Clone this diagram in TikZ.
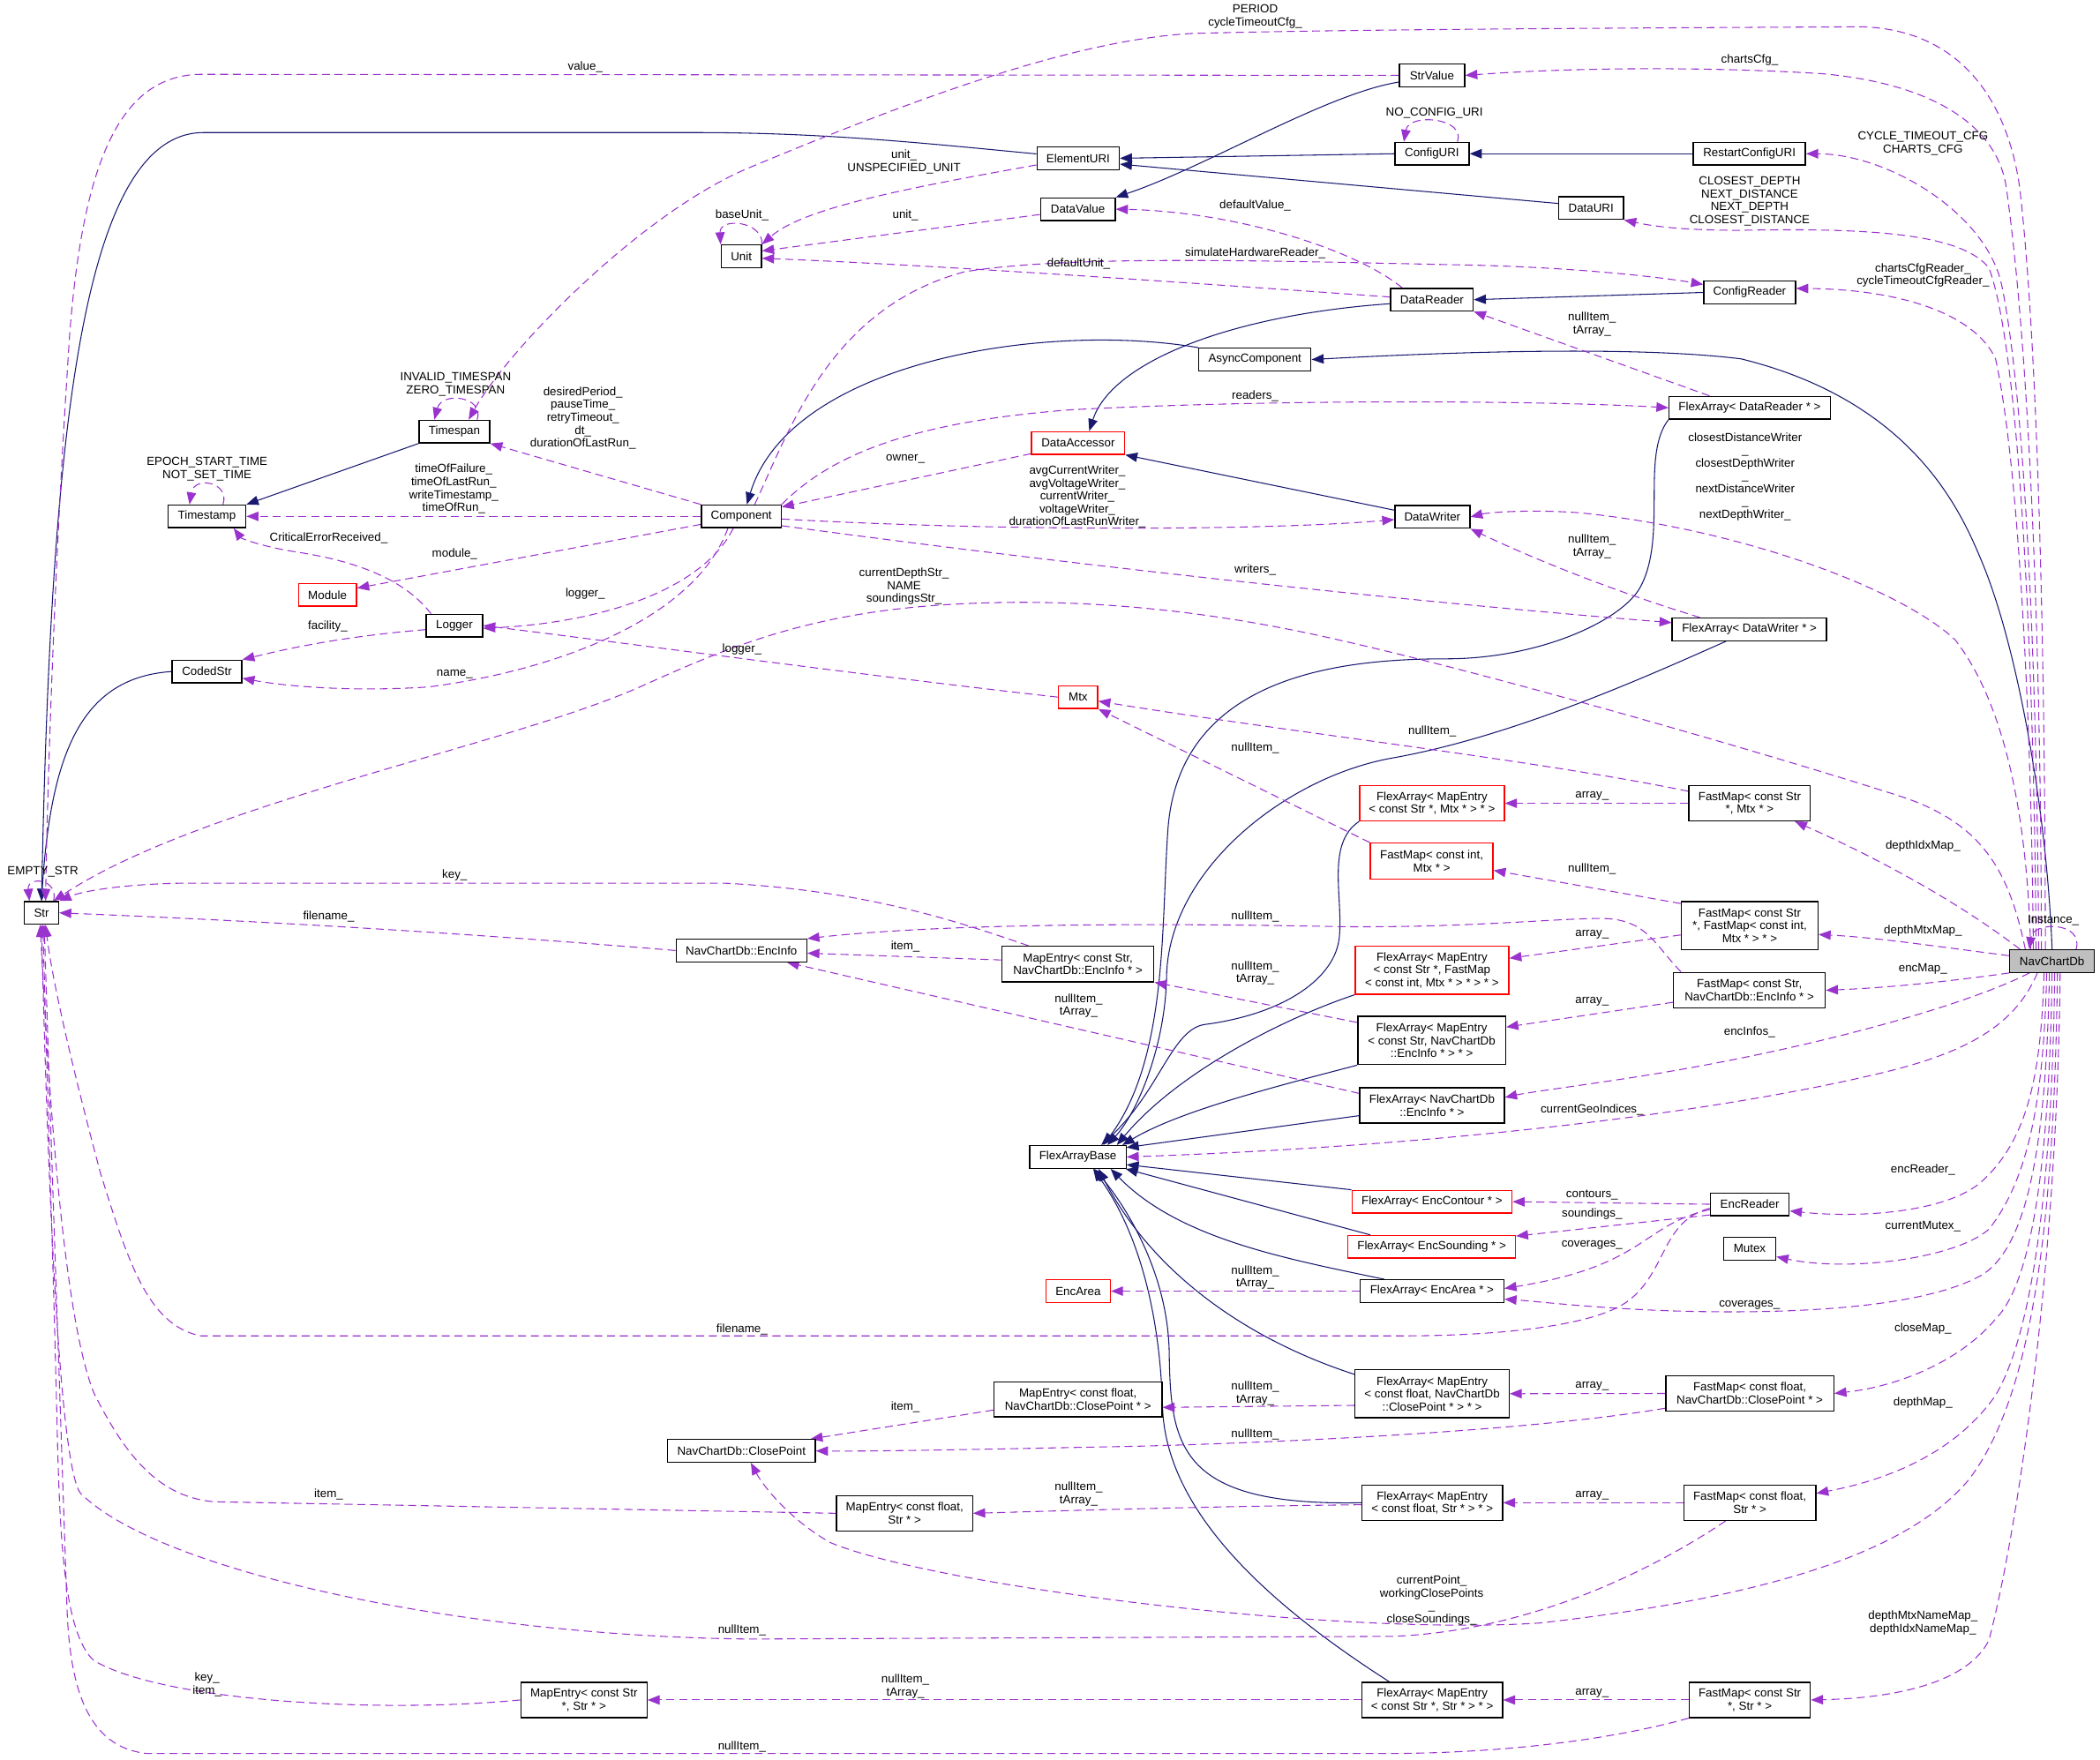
\documentclass[tikz,border=0pt]{standalone}
\usepackage{fontspec}
\setmainfont{Liberation Sans}
\usepackage{tikz}
\usetikzlibrary{arrows.meta,calc,backgrounds}
\definecolor{edgeblue}{HTML}{191970}
\definecolor{edgepurple}{HTML}{9A32CD}
\definecolor{focusgray}{HTML}{BFBFBF}

\begin{document}
\begin{tikzpicture}[
        x=1pt, y=-1pt,
        font=\fontsize{8.8}{9.6}\selectfont,
        cls/.style={
            draw=black,
            line width=0.9pt,
            fill=white,
            inner sep=1pt,
            minimum height=16.9,
            align=center
        },
        trunc/.style={
            cls,
            draw=red
        },
        focus/.style={
            cls,
            fill=focusgray
        },
        inhline/.style={
            -{Triangle[length=9pt,width=7pt]},
            line width=0.7pt,
            draw=edgeblue
        },
        useline/.style={
            -{Triangle[length=9pt,width=7pt]},
            line width=0.7pt,
            draw=edgepurple,
            dash pattern=on 6pt off 3.5pt
        },
        lbl/.style={
            inner sep=0pt,
            align=center
        }
    ]
    \useasboundingbox (0,0) rectangle (1568,1314);

    % =========================
    % Classes
    % =========================
    \node[cls, minimum width=48.8] (StrValue) at (1069.2,56.3) {StrValue};
    \node[cls, minimum width=61.5] (ElementURI) at (805,118.2) {ElementURI};
    \node[cls, minimum width=55.4] (ConfigURI) at (1069.2,114.8) {ConfigURI};
    \node[cls, minimum width=83.7] (RestartConfigURI) at (1306.2,114.8) {RestartConfigURI};
    \node[cls, minimum width=48.4] (DataURI) at (1188,155.4) {DataURI};
    \node[cls, minimum width=55.8] (DataValue) at (804.8,156.2) {DataValue};
    \node[cls, minimum width=30] (Unit) at (553.5,191.4) {Unit};
    \node[cls, minimum width=61.6] (DataReader) at (1069.2,223.8) {DataReader};
    \node[cls, minimum width=68.5] (ConfigReader) at (1306.4,218.4) {ConfigReader};
    \node[cls, minimum width=83.7] (AsyncComponent) at (937,268.5) {AsyncComponent};
    \node[cls, minimum width=120.3] (FADR) at (1306.4,304.5) {FlexArray< DataReader * >};
    \node[trunc, minimum width=69.5] (DataAccessor) at (805,330.8) {DataAccessor};
    \node[cls, minimum width=52.7] (Timespan) at (339.3,322.3) {Timespan};
    \node[cls, minimum width=58.1] (Timestamp) at (154.5,385.6) {Timestamp};
    \node[cls, minimum width=59.5] (Component) at (553.5,385.6) {Component};
    \node[cls, minimum width=56] (DataWriter) at (1069.5,386) {DataWriter};
    \node[trunc, minimum width=43.3] (Module) at (244.5,444.2) {Module};
    \node[cls, minimum width=42] (Logger) at (339.3,467.2) {Logger};
    \node[cls, minimum width=52.1] (CodedStr) at (154.5,501.5) {CodedStr};
    \node[cls, minimum width=115.3] (FADW) at (1306.2,470) {FlexArray< DataWriter * >};
    \node[trunc, minimum width=29.3] (Mtx) at (805,520.6) {Mtx};
    \node[cls, minimum width=25.5] (Str) at (31,681.7) {Str};
    \node[cls, minimum width=97.5] (EncInfo) at (553.6,709.8) {NavChartDb::EncInfo};
    \node[cls, minimum width=113.6, minimum height=26.5] (MESEI) at (804.8,719.9) {MapEntry< const Str,\\ NavChartDb::EncInfo * >};
    \node[trunc, minimum width=108, minimum height=26.2] (FAMtx) at (1069.2,599.9) {FlexArray< MapEntry\\< const Str *, Mtx * > * >};
    \node[trunc, minimum width=91.5, minimum height=26.7] (FMIntMtx) at (1069,643) {FastMap< const int,\\Mtx * >};
    \node[cls, minimum width=90.7, minimum height=26.2] (FMStrMtx) at (1306.4,599.9) {FastMap< const Str\\*, Mtx * >};
    \node[cls, minimum width=102, minimum height=36] (FMStrFM) at (1306.4,691.2) {FastMap< const Str\\*, FastMap< const int,\\Mtx * > * >};
    \node[trunc, minimum width=114.7, minimum height=35.7] (FAFM) at (1069.2,724.6) {FlexArray< MapEntry\\< const Str *, FastMap\\< const int, Mtx * > * > * >};
    \node[cls, minimum width=113.3, minimum height=26.7] (FMStrEI) at (1306.2,739.5) {FastMap< const Str,\\ NavChartDb::EncInfo * >};
    \node[focus, minimum width=63.2] (NavChartDb) at (1532.2,717.7) {NavChartDb};
    \node[cls, minimum width=110.4, minimum height=36] (FAEI) at (1069,777) {FlexArray< MapEntry\\< const Str, NavChartDb\\::EncInfo * > * >};
    \node[cls, minimum width=108, minimum height=26.5] (FAEIp) at (1069.2,825.5) {FlexArray< NavChartDb\\::EncInfo * >};
    \node[cls, minimum width=72] (FlexArrayBase) at (804.8,864) {FlexArrayBase};
    \node[trunc, minimum width=119.4] (FAEC) at (1069.2,897.4) {FlexArray< EncContour * >};
    \node[cls, minimum width=58.9] (EncReader) at (1306.5,899.3) {EncReader};
    \node[trunc, minimum width=125] (FAES) at (1069,931.1) {FlexArray< EncSounding * >};
    \node[cls, minimum width=39] (Mutex) at (1306.4,932.5) {Mutex};
    \node[trunc, minimum width=48.1] (EncArea) at (805,964.2) {EncArea};
    \node[cls, minimum width=107.3] (FAEA) at (1069.2,964.2) {FlexArray< EncArea * >};
    \node[cls, minimum width=125.4, minimum height=26] (MEFCP) at (804.9,1045) {MapEntry< const float,\\ NavChartDb::ClosePoint * >};
    \node[cls, minimum width=115, minimum height=35.7] (FACP) at (1069.3,1040.8) {FlexArray< MapEntry\\< const float, NavChartDb\\::ClosePoint * > * >};
    \node[cls, minimum width=125.4, minimum height=26.3] (FMFCP) at (1306.5,1040.6) {FastMap< const float,\\ NavChartDb::ClosePoint * >};
    \node[cls, minimum width=110.3] (ClosePoint) at (553.6,1083.5) {NavChartDb::ClosePoint};
    \node[cls, minimum width=101.5, minimum height=26.3] (MEFS) at (675.4,1130.1) {MapEntry< const float,\\Str * >};
    \node[cls, minimum width=104.9, minimum height=26.3] (FAFS) at (1069.4,1122.2) {FlexArray< MapEntry\\< const float, Str * > * >};
    \node[cls, minimum width=98.5, minimum height=26.3] (FMFS) at (1306.5,1122.2) {FastMap< const float,\\Str * >};
    \node[cls, minimum width=94.1, minimum height=26.3] (MESS) at (436,1269.5) {MapEntry< const Str\\*, Str * >};
    \node[cls, minimum width=104.9, minimum height=26.3] (FASS) at (1069.4,1269.5) {FlexArray< MapEntry\\< const Str *, Str * > * >};
    \node[cls, minimum width=90.4, minimum height=26.3] (FMSS) at (1306.5,1269.5) {FastMap< const Str\\*, Str * >};

    % =========================
    % Member labels
    % =========================
    \node[lbl] (lPeriod) at (937.2,12.2) {PERIOD\\cycleTimeoutCfg\_};
    \node[lbl] (lValue) at (437,49.8) {value\_};
    \node[lbl] (lChartsCfg) at (1306.4,45) {chartsCfg\_};
    \node[lbl] (lNoCfg) at (1071,84.4) {NO\_CONFIG\_URI};
    \node[lbl] (lCycleCfg) at (1435.8,107.1) {CYCLE\_TIMEOUT\_CFG\\CHARTS\_CFG};
    \node[lbl] (lUnitSpec) at (675,120.9) {unit\_\\UNSPECIFIED\_UNIT};
    \node[lbl] (lUriConst) at (1306.4,150.3) {CLOSEST\_DEPTH\\NEXT\_DISTANCE\\NEXT\_DEPTH\\CLOSEST\_DISTANCE};
    \node[lbl] (lDefVal) at (937.2,153.4) {defaultValue\_};
    \node[lbl] (lBaseUnit) at (554,161) {baseUnit\_};
    \node[lbl] (lUnit) at (676,161) {unit\_};
    \node[lbl] (lSimHw) at (937.2,188.9) {simulateHardwareReader\_};
    \node[lbl] (lDefUnit) at (805.4,197) {defaultUnit\_};
    \node[lbl] (lCfgReader) at (1435.8,205.6) {chartsCfgReader\_\\cycleTimeoutCfgReader\_};
    \node[lbl] (lNullRd) at (1188.7,242) {nullItem\_\\tArray\_};
    \node[lbl] (lTsConst) at (340.2,287) {INVALID\_TIMESPAN\\ZERO\_TIMESPAN};
    \node[lbl] (lReaders) at (937.2,295.5) {readers\_};
    \node[lbl] (lPeriods) at (435.3,312.3) {desiredPeriod\_\\pauseTime\_\\retryTimeout\_\\dt\_\\durationOfLastRun\_};
    \node[lbl] (lOwner) at (676,342.8) {owner\_};
    \node[lbl] (lTmConst) at (154.6,350.3) {EPOCH\_START\_TIME\\NOT\_SET\_TIME};
    \node[lbl] (lTimes) at (338.8,365.2) {timeOfFailure\_\\timeOfLastRun\_\\writeTimestamp\_\\timeOfRun\_};
    \node[lbl] (lWriterDb) at (1303,356) {closestDistanceWriter\\\_\\closestDepthWriter\\\_\\nextDistanceWriter\\\_\\nextDepthWriter\_};
    \node[lbl] (lAvg) at (804.4,371) {avgCurrentWriter\_\\avgVoltageWriter\_\\currentWriter\_\\voltageWriter\_\\durationOfLastRunWriter\_};
    \node[lbl] (lCrit) at (245.4,401.9) {CriticalErrorReceived\_};
    \node[lbl] (lNullWr) at (1188.7,408) {nullItem\_\\tArray\_};
    \node[lbl] (lModule) at (339.5,413.7) {module\_};
    \node[lbl] (lWriters) at (937.2,425.8) {writers\_};
    \node[lbl] (lDepthStr) at (675,438) {currentDepthStr\_\\NAME\\soundingsStr\_};
    \node[lbl] (lLogger) at (437,443.2) {logger\_};
    \node[lbl] (lFacility) at (244.7,468) {facility\_};
    \node[lbl] (lLoggerMtx) at (554,484.6) {logger\_};
    \node[lbl] (lCodedName) at (339.5,503.2) {name\_};
    \node[lbl] (lNullMtxA) at (1069.4,546) {nullItem\_};
    \node[lbl] (lNullMtxB) at (937.2,558.6) {nullItem\_};
    \node[lbl] (lArrMtx) at (1188.7,594.7) {array\_};
    \node[lbl] (lDepthIdx) at (1435.8,631.8) {depthIdxMap\_};
    \node[lbl] (lNullInt) at (1188.7,648.7) {nullItem\_};
    \node[lbl] (lEmptyStr) at (32,651.2) {EMPTY\_STR};
    \node[lbl] (lKey) at (339.5,653.8) {key\_};
    \node[lbl] (lNullEI) at (937.2,684.2) {nullItem\_};
    \node[lbl] (lFilenameEI) at (245.4,684.7) {filename\_};
    \node[lbl] (lInstance) at (1533.2,687.5) {Instance\_};
    \node[lbl] (lDepthMtx) at (1435.8,695.1) {depthMtxMap\_};
    \node[lbl] (lArrFM) at (1188.7,697.7) {array\_};
    \node[lbl] (lItemEI) at (676,706.7) {item\_};
    \node[lbl] (lEncMap) at (1435.8,723.9) {encMap\_};
    \node[lbl] (lNullMESEI) at (937.2,726.7) {nullItem\_\\tArray\_};
    \node[lbl] (lArrEI) at (1188.7,747.8) {array\_};
    \node[lbl] (lNullEIp) at (805.4,751) {nullItem\_\\tArray\_};
    \node[lbl] (lEncInfos) at (1306.3,771.1) {encInfos\_};
    \node[lbl] (lGeo) at (1188.7,828.8) {currentGeoIndices\_};
    \node[lbl] (lEncReader) at (1435.8,873.9) {encReader\_};
    \node[lbl] (lContours) at (1188.7,892.3) {contours\_};
    \node[lbl] (lSoundings) at (1188.7,906.4) {soundings\_};
    \node[lbl] (lMutex) at (1435.8,915.8) {currentMutex\_};
    \node[lbl] (lCovA) at (1188.7,929.7) {coverages\_};
    \node[lbl] (lNullArea) at (937.2,954.1) {nullItem\_\\tArray\_};
    \node[lbl] (lCovB) at (1306.3,974.4) {coverages\_};
    \node[lbl] (lFilenameRd) at (554,992.5) {filename\_};
    \node[lbl] (lCloseMap) at (1435.8,992.3) {closeMap\_};
    \node[lbl] (lArrCP) at (1188.7,1035.3) {array\_};
    \node[lbl] (lNullMEFCP) at (937.2,1040.8) {nullItem\_\\tArray\_};
    \node[lbl] (lDepthMap) at (1435.8,1047.5) {depthMap\_};
    \node[lbl] (lItemCP) at (676,1050.9) {item\_};
    \node[lbl] (lNullCP) at (937.2,1071.3) {nullItem\_};
    \node[lbl] (lNullMEFS) at (805.4,1115.6) {nullItem\_\\tArray\_};
    \node[lbl] (lItemFS) at (245.4,1116) {item\_};
    \node[lbl] (lArrFS) at (1188.7,1116.9) {array\_};
    \node[lbl] (lClosePts) at (1069,1195) {currentPoint\_\\workingClosePoints\\\_\\closeSoundings\_};
    \node[lbl] (lNameMaps) at (1435.8,1211.8) {depthMtxNameMap\_\\depthIdxNameMap\_};
    \node[lbl] (lNullFS) at (554,1217.5) {nullItem\_};
    \node[lbl] (lKeyItem) at (154.6,1258) {key\_\\item\_};
    \node[lbl] (lNullMESS) at (676,1259.2) {nullItem\_\\tArray\_};
    \node[lbl] (lArrSS) at (1188.7,1264.2) {array\_};
    \node[lbl] (lNullSS) at (554,1304.4) {nullItem\_};

    \begin{scope}[on background layer]
    % =========================
    % Inheritance
    % =========================
    \draw[inhline] (ElementURI.174) .. controls (700,108) and (620,99) .. (520,99) -- (152,99) .. controls (60,99) and (38,330) .. (Str.north);
    \draw[inhline] (CodedStr.west) .. controls (62,506) and (38,560) .. (Str.north);
    \draw[inhline] ($(StrValue.west)+(0,5)$) .. controls (990,70) and (900,125) .. (DataValue.north east);
    \draw[inhline] (ConfigURI.west) -- (ElementURI.east);
    \draw[inhline] (DataURI.172) -- (ElementURI.-8);
    \draw[inhline] (RestartConfigURI.west) -- (ConfigURI.east);
    \draw[inhline] (ConfigReader.west) -- (DataReader.east);
    \draw[inhline] ($(DataReader.west)+(0,3)$) .. controls (920,235) and (830,270) .. (DataAccessor.47);
    \draw[inhline] (DataWriter.170) -- (DataAccessor.south east);
    \draw[inhline] (AsyncComponent.north west) .. controls (780,240) and (590,270) .. (Component.65);
    \draw[inhline] (NavChartDb.north) .. controls (1528,600) and (1505,480) .. (1480,420) .. controls (1465,384) and (1430,300) .. (1300,268) .. controls (1220,258) and (1080,263) .. (AsyncComponent.east);
    \draw[inhline] (Timespan.south west) -- (Timestamp.north east);
    \draw[inhline] (FADR.south west) .. controls (1225,340) and (1245,400) .. (1225,438) .. controls (1212,463) and (1150,492) .. (1080,492) .. controls (1000,492) and (880,505) .. (872,620) .. controls (867,690) and (872,790) .. (FlexArrayBase.25);
    \draw[inhline] (FADW.-153) .. controls (1230,505) and (1130,550) .. (1040,566) .. controls (960,580) and (872,650) .. (871,730) .. controls (870,780) and (850,830) .. (FlexArrayBase.22);
    \draw[inhline] (FAMtx.south west) .. controls (990,630) and (1003,670) .. (1000,700) .. controls (997,730) and (960,757) .. (900,765) .. controls (875,768) and (866,815) .. (FlexArrayBase.27);
    \draw[inhline] (FAFM.south west) .. controls (960,760) and (880,800) .. (FlexArrayBase.17);
    \draw[inhline] (FAEI.south west) .. controls (950,812) and (880,830) .. (FlexArrayBase.15);
    \draw[inhline] (FAEIp.-172) -- (FlexArrayBase.11);
    \draw[inhline] (FAEC.north west) -- (FlexArrayBase.-9);
    \draw[inhline] (FAES.169) -- (FlexArrayBase.-14);
    \draw[inhline] (FAEA.166) .. controls (960,940) and (880,925) .. (FlexArrayBase.-20);
    \draw[inhline] (FACP.166) .. controls (930,1000) and (860,950) .. (FlexArrayBase.-30);
    \draw[inhline] (FAFS.west) .. controls (880,1125) and (874,1080) .. (873,1010) .. controls (872,950) and (840,900) .. (FlexArrayBase.-36);
    \draw[inhline] (FASS.157) .. controls (950,1200) and (870,1130) .. (868,1050) .. controls (866,980) and (850,920) .. (FlexArrayBase.-38);

    % =========================
    % Members of NavChartDb
    % =========================
    \draw[useline] ($(NavChartDb.north)+(-5,0)$) .. controls (1527,500) and (1522,260) .. (1508,140) .. controls (1498,70) and (1460,22) .. (1390,20) .. controls (1200,21) and (1000,22) .. (890,25) .. controls (800,30) and (680,75) .. (560,125) .. controls (480,158) and (380,260) .. (Timespan.40);
    \draw[useline] ($(NavChartDb.north)+(-8,0)$) .. controls (1524,480) and (1515,260) .. (1498,140) .. controls (1491,92) and (1440,62) .. (1360,55) .. controls (1280,50) and (1180,50) .. (StrValue.east);
    \draw[useline] ($(NavChartDb.north)+(-10,0)$) .. controls (1521,500) and (1512,300) .. (1495,215) .. controls (1485,160) and (1410,115) .. (RestartConfigURI.east);
    \draw[useline] ($(NavChartDb.north)+(-12,0)$) .. controls (1519,500) and (1508,260) .. (1485,200) .. controls (1465,175) and (1400,170) .. (1300,172) .. controls (1250,172) and (1230,168) .. (DataURI.south east);
    \draw[useline] ($(NavChartDb.north)+(-14,0)$) .. controls (1517,550) and (1508,350) .. (1490,268) .. controls (1475,235) and (1420,216) .. ($(ConfigReader.east)+(0,-3)$);
    \draw[useline] ($(NavChartDb.north)+(-16,0)$) .. controls (1514,620) and (1500,530) .. (1460,478) .. controls (1420,440) and (1300,395) .. (1180,383) .. controls (1140,380) and (1110,383) .. (DataWriter.east);
    \draw[useline] ($(NavChartDb.north)+(-20,0)$) .. controls (1500,650) and (1480,615) .. (1420,595) .. controls (1330,566) and (1120,505) .. (1000,478) .. controls (900,455) and (800,445) .. (700,452) .. controls (600,459) and (540,485) .. (480,512) .. controls (380,557) and (150,600) .. ($(Str.north)+(9,0)$);
    \draw[useline] ($(NavChartDb.north west)+(8,0)$) .. controls (1460,672) and (1400,640) .. ($(FMStrMtx.south east)+(-12,0)$);
    \draw[useline] ($(NavChartDb.west)+(0,-4)$) .. controls (1440,706) and (1400,700) .. ($(FMStrFM.east)+(0,6.7)$);
    \draw[useline] (NavChartDb.south west) .. controls (1440,735) and (1400,738) .. (FMStrEI.east);
    \draw[useline] ($(NavChartDb.south)+(-17,0)$) .. controls (1470,750) and (1350,785) .. (1210,806) .. controls (1170,812) and (1140,816) .. ($(FAEIp.east)+(0,-6)$);
    \draw[useline] ($(NavChartDb.south)+(-11,0)$) .. controls (1505,765) and (1470,785) .. (1410,800) .. controls (1300,827) and (1100,855) .. (FlexArrayBase.east);
    \draw[useline] ($(NavChartDb.south)+(-6,0)$) .. controls (1524,800) and (1515,850) .. (1480,882) .. controls (1455,905) and (1390,910) .. ($(EncReader.east)+(0,5)$);
    \draw[useline] ($(NavChartDb.south)+(-4,0)$) .. controls (1526,820) and (1515,880) .. (1485,918) .. controls (1460,940) and (1380,950) .. ($(Mutex.east)+(0,6)$);
    \draw[useline] ($(NavChartDb.south)+(-2,0)$) .. controls (1528,850) and (1515,930) .. (1480,952) .. controls (1440,975) and (1350,982) .. (1250,979) .. controls (1190,977) and (1150,972) .. ($(FAEA.east)+(0,6)$);
    \draw[useline] (NavChartDb.south) .. controls (1530,880) and (1515,960) .. (1490,985) .. controls (1465,1015) and (1420,1035) .. (FMFCP.east);
    \draw[useline] ($(NavChartDb.south)+(2,0)$) .. controls (1532,900) and (1515,1000) .. (1490,1042) .. controls (1460,1085) and (1410,1105) .. ($(FMFS.east)+(0,-7)$);
    \draw[useline] ($(NavChartDb.south)+(4,0)$) .. controls (1534,900) and (1520,1040) .. (1470,1105) .. controls (1420,1165) and (1300,1195) .. (1150,1212) .. controls (1000,1222) and (700,1185) .. (620,1152) .. controls (590,1135) and (570,1110) .. ($(ClosePoint.south)+(7,0)$);
    \draw[useline] ($(NavChartDb.south)+(6,0)$) .. controls (1536,950) and (1505,1150) .. (1485,1225) .. controls (1470,1255) and (1420,1268) .. (FMSS.east);
    \draw[useline] ($(NavChartDb.north)+(18,0)$) .. controls (1556,688) and (1518,688) .. ($(NavChartDb.north)+(-17,0)$);

    % =========================
    % Members pointing at Str
    % =========================
    \draw[useline] (StrValue.west) -- (150,55.5) .. controls (90,56) and (62,120) .. (52,250) .. controls (42,400) and (36,560) .. ($(Str.north)+(3,0)$);
    \draw[useline] ($(Str.north)+(9,0)$) .. controls (44,656) and (20,654) .. ($(Str.north)+(-9,0)$);
    \draw[useline] ($(FMFS.south)+(-18,0)$) .. controls (1230,1175) and (1140,1218) .. (1040,1222) -- (560,1224) .. controls (350,1222) and (120,1175) .. (60,1115) .. controls (45,1095) and (36,900) .. (Str.south);
    \draw[useline] (FMSS.south west) .. controls (1200,1300) and (1120,1309) .. (1040,1309.5) -- (110,1309.5) .. controls (65,1305) and (52,1260) .. (50,1200) .. controls (45,1050) and (38,850) .. ($(Str.south)+(2,0)$);
    \draw[useline] (MESS.west) .. controls (280,1280) and (120,1270) .. (70,1240) .. controls (48,1220) and (45,1150) .. (43,1080) .. controls (40,950) and (35,800) .. ($(Str.south)+(1,0)$);
    \draw[useline] (MEFS.west) -- (160,1121.5) .. controls (120,1118) and (95,1090) .. (70,1040) .. controls (50,990) and (38,850) .. ($(Str.south)+(-1,0)$);
    \draw[useline] ($(EncReader.west)+(0,3)$) .. controls (1240,912) and (1245,950) .. (1215,972) .. controls (1190,990) and (1120,998) .. (1040,997.6) -- (150,997.6) .. controls (110,990) and (95,940) .. (75,876) .. controls (60,820) and (40,740) .. ($(Str.south)+(3,0)$);
    \draw[useline] (EncInfo.west) .. controls (350,697) and (200,688) .. (Str.east);
    \draw[useline] ($(MESEI.north)+(-37,0)$) .. controls (720,690) and (650,665) .. (540,659.5) -- (140,659.5) .. controls (90,660) and (60,666) .. (Str.north east);

    % =========================
    % Other members
    % =========================
    \draw[useline] ($(FMStrEI.north west)+(6,0)$) .. controls (1235,705) and (1230,688) .. (1200,686) .. controls (1170,685) and (1100,693) .. (1000,692) .. controls (850,689) and (700,690) .. (EncInfo.north east);
    \draw[useline] ($(MESEI.west)+(0,-3)$) -- ($(EncInfo.east)+(0,2)$);
    \draw[useline] ($(FAEIp.west)+(0,-9)$) -- ($(EncInfo.south)+(34,0)$);
    \draw[useline] ($(FAEI.north west)+(0,5)$) -- (MESEI.south east);
    \draw[useline] ($(FMStrEI.west)+(0,9)$) -- ($(FAEI.east)+(0,-10)$);
    \draw[useline] ($(FMStrFM.west)+(0,7)$) -- ($(FAFM.east)+(0,-9)$);
    \draw[useline] ($(FMStrFM.north west)+(0,2)$) -- ($(FMIntMtx.east)+(0,7)$);
    \draw[useline] (FMStrMtx.west) -- (FAMtx.east);
    \draw[useline] ($(FMStrMtx.west)+(0,-9)$) .. controls (1150,568) and (950,545) .. ($(Mtx.east)+(0,3)$);
    \draw[useline] (FMIntMtx.north west) -- (Mtx.south east);
    \draw[useline] (Mtx.west) .. controls (650,505) and (450,478) .. (Logger.east);
    \draw[useline] ($(Component.south)+(-6,0)$) .. controls (525,440) and (450,465) .. ($(Logger.east)+(0,2)$);
    \draw[useline] ($(Component.south)+(-10,0)$) .. controls (520,460) and (420,500) .. (320,513) .. controls (260,517) and (210,512) .. ($(CodedStr.east)+(0,5)$);
    \draw[useline] ($(Logger.west)+(0,3)$) .. controls (260,475) and (220,483) .. (CodedStr.north east);
    \draw[useline] ($(Logger.north west)+(4,0)$) .. controls (300,430) and (260,418) .. (220,412) .. controls (195,408) and (180,402) .. ($(Timestamp.south)+(20,0)$);
    \draw[useline] ($(Component.west)+(0,6)$) -- ($(Module.east)+(0,-5)$);
    \draw[useline] (Component.west) -- (Timestamp.east);
    \draw[useline] (Component.north west) -- (Timespan.south east);
    \draw[useline] ($(Timestamp.north)+(12,0)$) .. controls (172,360) and (145,355) .. ($(Timestamp.north)+(-13,0)$);
    \draw[useline] ($(Timespan.north)+(17,0)$) .. controls (362,296) and (330,292) .. ($(Timespan.north)+(-15,0)$);
    \draw[useline] ($(ConfigURI.north)+(19,0)$) .. controls (1095,88) and (1052,84) .. ($(ConfigURI.north)+(-21,0)$);
    \draw[useline] (Unit.north east) .. controls (570,165) and (537,162) .. (Unit.north west);
    \draw[useline] ($(ElementURI.west)+(0,5)$) .. controls (680,140) and (600,155) .. (Unit.north east);
    \draw[useline] ($(DataValue.west)+(0,4)$) -- ($(Unit.east)+(0,-4)$);
    \draw[useline] ($(DataReader.north west)+(9,0)$) .. controls (1010,185) and (920,158) .. (DataValue.east);
    \draw[useline] ($(DataReader.west)+(0,-2)$) .. controls (900,212) and (700,198) .. ($(Unit.east)+(0,1.5)$);
    \draw[useline] ($(Component.north)+(10,0)$) .. controls (590,320) and (620,230) .. (720,203) .. controls (800,190) and (950,195) .. (1100,198) .. controls (1180,200) and (1240,207) .. ($(ConfigReader.west)+(0,-6)$);
    \draw[useline] ($(FADR.north)+(-30,0)$) -- (DataReader.south east);
    \draw[useline] (Component.north east) .. controls (620,340) and (680,315) .. (800,306) .. controls (950,298) and (1150,299) .. (FADR.west);
    \draw[useline] ($(DataAccessor.west)+(0,8)$) -- ($(Component.east)+(0,-7)$);
    \draw[useline] ($(Component.east)+(0,2)$) .. controls (750,397) and (950,396) .. ($(DataWriter.west)+(0,2)$);
    \draw[useline] ($(Component.east)+(0,7)$) .. controls (750,415) and (1000,445) .. ($(FADW.west)+(0,-5)$);
    \draw[useline] ($(FADW.north)+(-37,0)$) .. controls (1200,440) and (1140,415) .. (DataWriter.south east);
    \draw[useline] (FMFCP.west) -- (FACP.east);
    \draw[useline] ($(FMFCP.west)+(0,11)$) .. controls (1160,1066) and (1000,1076) .. (850,1080) .. controls (750,1082) and (650,1084) .. (ClosePoint.east);
    \draw[useline] ($(FACP.west)+(0,8.7)$) -- ($(MEFCP.east)+(0,6)$);
    \draw[useline] ($(MEFCP.west)+(0,8)$) -- ($(ClosePoint.north east)+(-4,0)$);
    \draw[useline] ($(FAFS.west)+(0,1.5)$) .. controls (900,1125) and (800,1128) .. (MEFS.east);
    \draw[useline] (FMFS.west) -- (FAFS.east);
    \draw[useline] (FASS.west) -- (MESS.east);
    \draw[useline] (FMSS.west) -- (FASS.east);
    \draw[useline] (FAEA.west) -- (EncArea.east);
    \draw[useline] (EncReader.west) -- (FAEC.east);
    \draw[useline] ($(EncReader.west)+(0,8)$) -- ($(FAES.east)+(0,-8)$);
    \draw[useline] ($(EncReader.west)+(0,4)$) .. controls (1225,915) and (1230,945) .. ($(FAEA.east)+(0,-2)$);
    \end{scope}

\end{tikzpicture}
\end{document}
